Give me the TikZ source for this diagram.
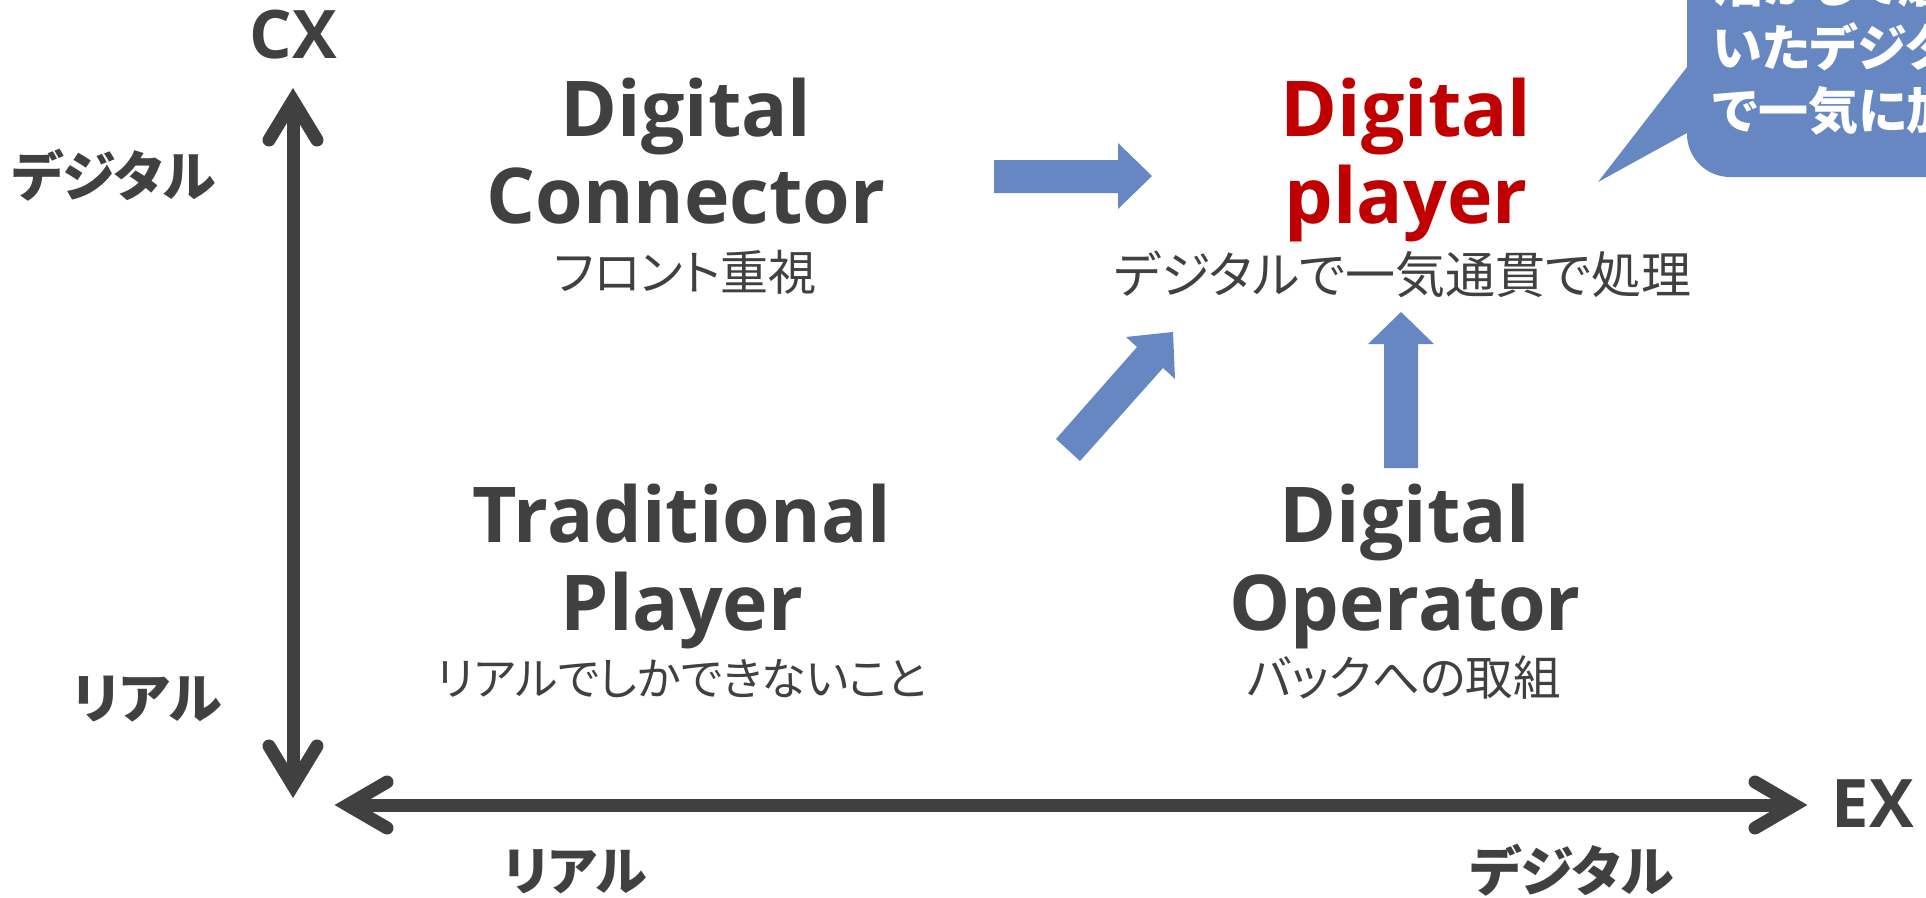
\documentclass[tikz,border=0pt]{standalone}
\usepackage{fontspec}
\newfontfamily\latf{Open Sans}
\newfontfamily\jpf[RawFeature=+palt]{Noto Sans CJK JP}
\definecolor{dg}{HTML}{404040}
\definecolor{rd}{HTML}{C00000}
\definecolor{bl}{HTML}{6787C3}
\begin{document}
\begin{tikzpicture}[x=1pt,y=-1pt,
  axis/.style={draw=dg,line width=13pt},
  headmark/.style={draw=dg,line width=13pt,line cap=round,line join=miter},
  big/.style={text=dg,font=\latf\bfseries\fontsize{77}{90}\selectfont,anchor=base,inner sep=0pt},
  axname/.style={text=dg,font=\latf\bfseries\fontsize{67}{80}\selectfont,anchor=base,inner sep=0pt},
  subtxt/.style={text=dg,inner sep=0pt,anchor=center},
  axlab/.style={text=dg,font=\jpf\bfseries\fontsize{54}{60}\selectfont,inner sep=0pt,anchor=center},
  calltxt/.style={text=white,font=\jpf\bfseries\fontsize{50}{56}\selectfont,inner sep=0pt,anchor=west},
  blk/.style={fill=bl,draw=none}]
\useasboundingbox (0,0) rectangle (1926,897);

% axes
\coordinate (vt) at (293,100.5);
\coordinate (vb) at (293,785.5);
\coordinate (hl) at (347.5,805);
\coordinate (hr) at (1794.5,805);
\draw[axis] (vt) -- (vb);
\draw[axis] (hl) -- (hr);
\draw[headmark] (269,140) -- (vt) -- (317,140);
\draw[headmark] (269,746) -- (vb) -- (317,746);
\draw[headmark] (387,782) -- (hl) -- (387,828);
\draw[headmark] (1755,782) -- (hr) -- (1755,828);

% axis labels
\node[axname] (cx) at (293.5,58) {CX};
\node[axname] (ex) at (1873,827) {EX};
\node[axlab] (ly1) at (114,175) {デジタル};
\node[axlab] (ly2) at (147,699) {リアル};
\node[axlab,font=\jpf\bfseries\fontsize{52}{60}\selectfont] (lx1) at (575,872) {リアル};
\node[axlab] (lx2) at (1572,870) {デジタル};

% quadrant labels
\node[big] (dc1) at (686,136) {Digital};
\node[big] (dc2) at (686,223) {Connector};
\node[subtxt,font=\jpf\fontsize{48}{50}\selectfont] (dcs) at (685,272) {フロント重視};

\node[big,text=rd] (dp1) at (1406,136) {Digital};
\node[big,text=rd] (dp2) at (1406,223) {player};
\node[subtxt,font=\jpf\fontsize{50}{52}\selectfont] (dps) at (1403,274) {デジタルで一気通貫で処理};

\node[big] (tp1) at (682,542) {Traditional};
\node[big] (tp2) at (682,630) {Player};
\node[subtxt,font=\jpf\fontsize{45}{50}\selectfont] (tps) at (682,679) {リアルでしかできないこと};

\node[big] (do1) at (1405,542) {Digital};
\node[big] (do2) at (1405,630) {Operator};
\node[subtxt,font=\jpf\fontsize{47.5}{50}\selectfont] (dos) at (1404,677) {バックへの取組};

% block arrows
\fill[blk] (994,160) -- (1118,160) -- (1118,143) -- (1152,176) -- (1118,209) -- (1118,193) -- (994,193) -- cycle;
\fill[blk] (1384,468) -- (1384,344) -- (1368,344) -- (1401,312) -- (1434,344) -- (1418,344) -- (1418,468) -- cycle;
\fill[blk] (1056,439) -- (1137,347) -- (1126,337) -- (1173,332) -- (1175,379) -- (1163,368) -- (1080,461) -- cycle;

% callout
\begin{scope}
\clip (0,0) rectangle (1926,897);
\fill[blk] (1598,182) -- (1687,67) -- (1687,-80) -- (2000,-80) -- (2000,177) -- (1730,177)
  arc[start angle=90,end angle=180,radius=43] -- (1687,133) -- cycle;
\node[calltxt] (c1) at (1713,-17) {活かして磨};
\node[calltxt] (c2) at (1713,47) {いたデジタル力};
\node[calltxt] (c3) at (1713,111) {で一気に加速};
\end{scope}
\end{tikzpicture}
\end{document}
